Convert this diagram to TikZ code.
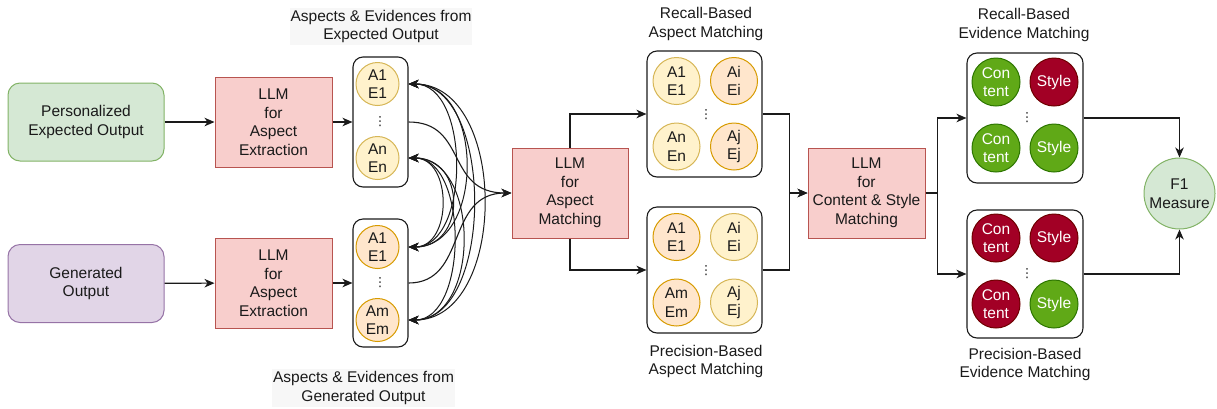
\documentclass[tikz,border=0pt]{standalone}
\usepackage{fontspec}
\setmainfont{Liberation Sans}
\newfontfamily\dotsfont{DejaVu Sans}
\usetikzlibrary{arrows.meta}

\definecolor{grnFill}{HTML}{D5E8D4}
\definecolor{grnLine}{HTML}{82B366}
\definecolor{purFill}{HTML}{E1D5E7}
\definecolor{purLine}{HTML}{9673A6}
\definecolor{llmFill}{HTML}{F8CECC}
\definecolor{llmLine}{HTML}{B85450}
\definecolor{yelFill}{HTML}{FFF2CC}
\definecolor{yelLine}{HTML}{D6B656}
\definecolor{orgFill}{HTML}{FFE6CC}
\definecolor{orgLine}{HTML}{D79B00}
\definecolor{okFill}{HTML}{60A917}
\definecolor{okLine}{HTML}{2D7600}
\definecolor{badFill}{HTML}{A20025}
\definecolor{badLine}{HTML}{6F0000}
\definecolor{ink}{HTML}{1A1A1A}
\definecolor{labelBg}{HTML}{F7F7F7}

\begin{document}
\begin{tikzpicture}[x=1pt,y=-1pt,
  txt/.style={font=\fontsize{15.5}{18.5}\selectfont, align=center, text=ink, inner sep=0pt},
  inbox/.style={txt, draw, line width=1pt, rounded corners=12pt, minimum width=156, minimum height=78},
  llm/.style={txt, draw=llmLine, fill=llmFill, line width=1pt, minimum width=117, minimum height=90},
  grp/.style={draw=ink, line width=1.1pt, rounded corners=10pt, inner sep=0pt},
  bub/.style={txt, circle, line width=1pt, minimum size=#1},
  ya/.style={bub=#1, draw=yelLine, fill=yelFill},
  oa/.style={bub=#1, draw=orgLine, fill=orgFill},
  ok/.style={bub=48, draw=okLine, fill=okFill, text=white},
  bad/.style={bub=48, draw=badLine, fill=badFill, text=white},
  vdots/.style={inner sep=0pt, text=ink, font=\dotsfont\fontsize{12.5}{12.5}\selectfont},
  caption/.style={txt},
  arr/.style={draw=ink, line width=1.1pt, -{Stealth[length=10pt,width=8.5pt,inset=3pt]}},
  twoway/.style={draw=ink, line width=1pt, {Stealth[length=10pt,width=8.5pt,inset=3pt]}-{Stealth[length=10pt,width=8.5pt,inset=3pt]}}
]
\useasboundingbox (0,0) rectangle (1217,408);

% inputs
\node[inbox, draw=grnLine, fill=grnFill] (pe) at (86,122) {Personalized\\Expected Output};
\node[inbox, draw=purLine, fill=purFill] (go) at (86,283.5) {Generated\\Output};

% aspect extraction
\node[llm] (xt) at (273.5,122) {LLM\\for\\Aspect\\Extraction};
\node[llm] (xb) at (273.5,283) {LLM\\for\\Aspect\\Extraction};

% extracted aspects and evidences
\node[grp, minimum width=55, minimum height=130] (ex) at (380.5,122) {};
\node[ya=43] (ex1) at (377.5,84) {A1\\E1};
\node[ya=43] (exn) at (377.5,158) {An\\En};
\node[vdots] (exd) at (380,122) {⋮};
\node[grp, minimum width=55, minimum height=128] (gn) at (380.5,283) {};
\node[oa=43] (gn1) at (377.5,247) {A1\\E1};
\node[oa=43] (gnm) at (377.5,320) {Am\\Em};
\node[vdots] (gnd) at (380,283) {⋮};

\node[caption, fill=labelBg, minimum width=182, minimum height=37] (capx) at (381,26.5) {Aspects \& Evidences from\\Expected Output};
\node[caption, fill=labelBg, minimum width=183, minimum height=38] (capg) at (363.5,388) {Aspects \& Evidences from\\Generated Output};

% aspect matching
\node[llm, minimum width=116] (am) at (570,193) {LLM\\for\\Aspect\\Matching};

\node[grp, minimum width=115, minimum height=126] (ra) at (704.5,114) {};
\node[ya=47] (ra1) at (676.5,81) {A1\\E1};
\node[oa=47] (rai) at (734,81) {Ai\\Ei};
\node[ya=47] (ran) at (676.5,146.5) {An\\En};
\node[oa=47] (raj) at (734,146.5) {Aj\\Ej};
\node[vdots] (rad) at (706,115) {⋮};

\node[grp, minimum width=115, minimum height=126] (pa) at (704.5,270) {};
\node[oa=47] (pa1) at (676.5,237) {A1\\E1};
\node[ya=47] (pai) at (734,237) {Ai\\Ei};
\node[oa=47] (pam) at (676.5,302.5) {Am\\Em};
\node[ya=47] (paj) at (734,302.5) {Aj\\Ej};
\node[vdots] (pad) at (706,271) {⋮};

\node[caption] (capra) at (706,24) {Recall-Based\\Aspect Matching};
\node[caption] (cappa) at (706,361.5) {Precision-Based\\Aspect Matching};

% content and style matching
\node[llm] (cs) at (866.5,193) {LLM\\for\\Content \& Style\\Matching};

\node[grp, minimum width=116, minimum height=130] (re) at (1025,118) {};
\node[ok] (rec1) at (996,82) {Con\\tent};
\node[bad] (res1) at (1054,82) {Style};
\node[ok] (rec2) at (996,148) {Con\\tent};
\node[ok] (res2) at (1054,148) {Style};
\node[vdots] (red) at (1027,118) {⋮};

\node[grp, minimum width=116, minimum height=128] (pv) at (1025,274) {};
\node[bad] (pvc1) at (996,238) {Con\\tent};
\node[bad] (pvs1) at (1054,238) {Style};
\node[bad] (pvc2) at (996,304) {Con\\tent};
\node[ok] (pvs2) at (1054,304) {Style};
\node[vdots] (pvd) at (1027,274) {⋮};

\node[caption] (capre) at (1024,25) {Recall-Based\\Evidence Matching};
\node[caption] (cappv) at (1025,364.5) {Precision-Based\\Evidence Matching};

\node[txt, circle, draw=grnLine, fill=grnFill, line width=1pt, minimum size=71] (f1) at (1179.5,193.5) {F1\\Measure};

% straight feeds
\draw[arr] (pe) -- (xt);
\draw[arr] (go) -- (xb);
\draw[arr] (xt) -- (ex);
\draw[arr] (xb) -- (gn);

% cross links between the two aspect sets
\coordinate (a1) at (ex.east |- ex1);
\coordinate (an) at (ex.east |- exn);
\coordinate (b1) at (gn.east |- gn1);
\coordinate (bm) at (gn.east |- gnm);
\draw[twoway] (a1) .. controls +(100,0) and +(100,0) .. (bm);
\draw[twoway] (a1) .. controls +(86,0) and +(86,0) .. (bm);
\draw[twoway] (a1) .. controls +(76,0) and +(76,0) .. (b1);
\draw[twoway] (a1) .. controls +(62,0) and +(62,0) .. (b1);
\draw[twoway] (an) .. controls +(72,0) and +(72,0) .. (bm);
\draw[twoway] (an) .. controls +(60,0) and +(60,0) .. (bm);
\draw[twoway] (an) .. controls +(58,0) and +(58,0) .. (b1);
\draw[twoway] (an) .. controls +(44,0) and +(44,0) .. (b1);

% both aspect sets into aspect matching
\coordinate (xs) at (ex.east |- exd);
\coordinate (gs) at (gn.east |- gnd);
\draw[arr] (xs) .. controls (468,122) and (445,193) .. (am.west);
\draw[arr] (gs) .. controls (468,283) and (445,193) .. (am.west);

% aspect matching outputs
\draw[arr] (am.north) |- (ra.west);
\draw[arr] (am.south) |- (pa.west);
\draw[arr] (ra.east) -- ++(27,0) |- (cs.west);
\draw[arr] (pa.east) -- ++(27,0) |- (cs.west);

% content and style outputs
\draw[arr] (cs.east) -- ++(12,0) |- (re.west);
\draw[arr] (cs.east) -- ++(12,0) |- (pv.west);
\draw[arr] (re.east) -| (f1.north);
\draw[arr] (pv.east) -| (f1.south);
\end{tikzpicture}
\end{document}
